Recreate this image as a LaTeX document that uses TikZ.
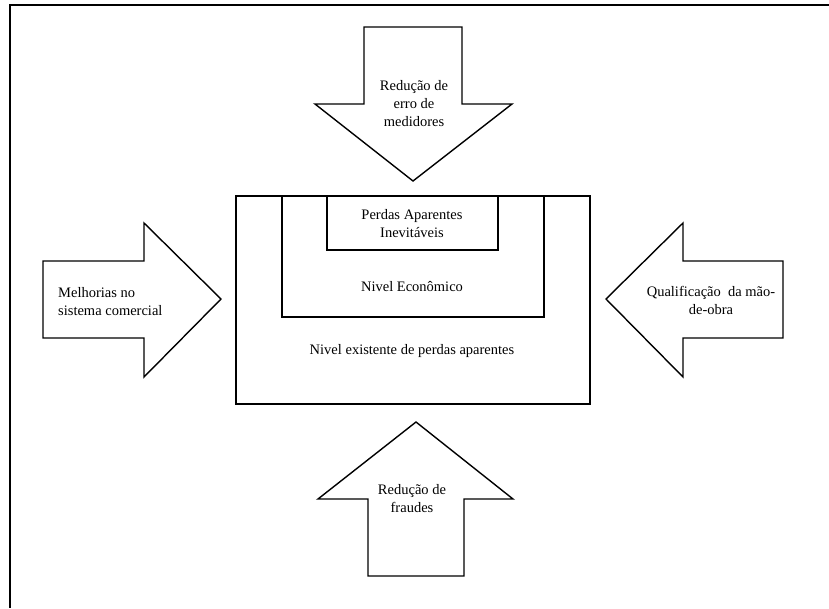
\documentclass[tikz,border=0pt]{standalone}
\usepackage{fontspec}
\setmainfont{Liberation Serif}
\begin{document}
\begin{tikzpicture}[x=1pt,y=-1pt,
  shape line/.style={draw=black,line width=1.4pt,line join=miter},
  lbl/.style={font=\fontsize{14.5}{18}\selectfont,inner sep=0pt,align=center,text=black}]
\useasboundingbox (0,0) rectangle (829,608);
% page frame (top and left edges)
\draw[line width=1.6pt] (829,5) -- (10,5) -- (10,608);

% nested levels
\draw[shape line] (236,196) rectangle (590,404);
\draw[shape line] (282,196) -- (282,317) -- (544,317) -- (544,196);
\draw[shape line] (327,196) -- (327,250) -- (498,250) -- (498,196);
\node[lbl] (inev) at (412,224) {Perdas Aparentes\\Inevitáveis};
\node[lbl] (econ) at (412,287) {Nivel Econômico};
\node[lbl] (exist) at (412,351) {Nivel existente de perdas aparentes};

% top arrow (pointing down)
\draw[shape line] (364,27) -- (462,27) -- (462,104) -- (512,104) -- (413,181)
  -- (315,104) -- (364,104) -- cycle;
\node[lbl] (medid) at (414,104) {Redução de\\erro de\\medidores};

% bottom arrow (pointing up)
\draw[shape line] (416,422) -- (513,499) -- (464,499) -- (464,576) -- (368,576)
  -- (368,499) -- (318,499) -- cycle;
\node[lbl] (fraud) at (412,499) {Redução de\\fraudes};

% left arrow (pointing right)
\draw[shape line] (43,261) -- (144,261) -- (144,223) -- (221,299) -- (144,377)
  -- (144,338) -- (43,338) -- cycle;
\node[lbl,align=left,anchor=west] (comerc) at (58,302) {Melhorias no\\sistema comercial};

% right arrow (pointing left)
\draw[shape line] (783,261) -- (683,261) -- (683,223) -- (606,299) -- (683,377)
  -- (683,338) -- (783,338) -- cycle;
\node[lbl] (maoobra) at (711,300) {Qualificação~ da mão-\\de-obra};
\end{tikzpicture}
\end{document}
